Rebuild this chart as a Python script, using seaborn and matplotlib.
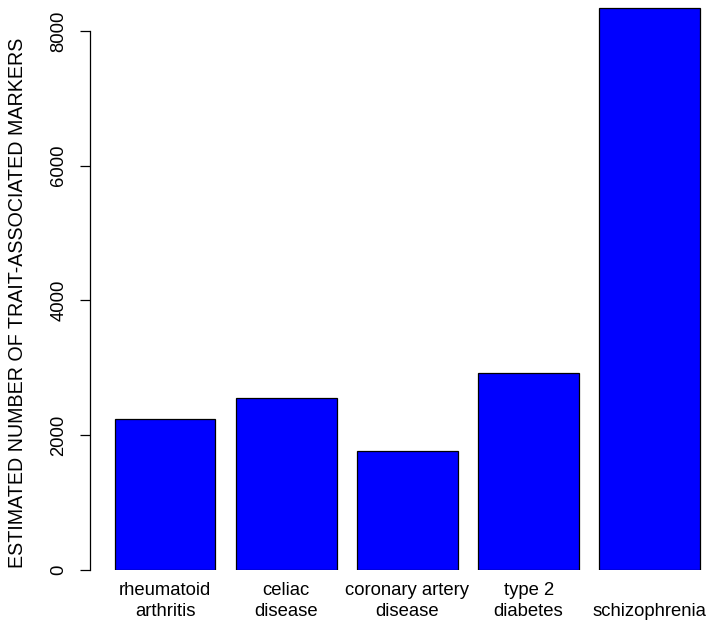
import numpy as np
import pandas as pd
import seaborn as sns
import matplotlib
matplotlib.use("Agg")
import matplotlib.pyplot as plt

# Values
diseases = ["rheumatoid\narthritis", "celiac\ndisease", "coronary artery\ndisease",
            "type 2\ndiabetes", "schizophrenia"]
markers = [2240, 2555, 1765, 2925, 8340]
y_ticks = [0, 2000, 4000, 6000, 8000]

df = pd.DataFrame({"disease": diseases, "markers": markers})

sns.set_style("white")
plt.rcParams["font.family"] = ["Liberation Sans", "DejaVu Sans"]
plt.rcParams["text.color"] = "black"
plt.rcParams["xtick.color"] = "black"
plt.rcParams["ytick.color"] = "black"
plt.rcParams["axes.labelcolor"] = "black"

fig = plt.figure(figsize=(7.14, 6.27), dpi=100)
# axes spans from the y axis line to the right edge, y=0 sits at the axes bottom
ax = fig.add_axes([90 / 714, 57 / 627, 624 / 714, 570 / 627])

sns.barplot(data=df, x="disease", y="markers", color="#0000ff", saturation=1,
            edgecolor="black", linewidth=0.9, width=0.833, ax=ax)

ax.set_xlim(-0.619, 4.53)
ax.set_ylim(0, 8459)

# R base-graphics look: only a left axis, bounded to the tick range
for side in ["top", "right", "bottom"]:
    ax.spines[side].set_visible(False)
ax.spines["left"].set_bounds(0, 8000)
ax.spines["left"].set_linewidth(0.9)
ax.spines["left"].set_color("black")

ax.set_yticks(y_ticks)
ax.set_yticklabels([str(t) for t in y_ticks], rotation=90, va="center", fontsize=13.3)
ax.tick_params(axis="y", left=True, length=7.2, width=0.9, pad=9, color="black")

# x labels are bottom-aligned so single-line names sit on the second line
ax.tick_params(axis="x", bottom=False, length=0, pad=36)
ax.set_xticks(range(len(diseases)))
ax.set_xticklabels(diseases, va="bottom", fontsize=13.3, linespacing=1.3)

ax.set_xlabel("")
ax.set_ylabel("ESTIMATED NUMBER OF TRAIT-ASSOCIATED MARKERS", fontsize=14.1)
ax.yaxis.set_label_coords(-0.101, 0.468)
ax.grid(False)

fig.savefig("out.png", dpi=100)
